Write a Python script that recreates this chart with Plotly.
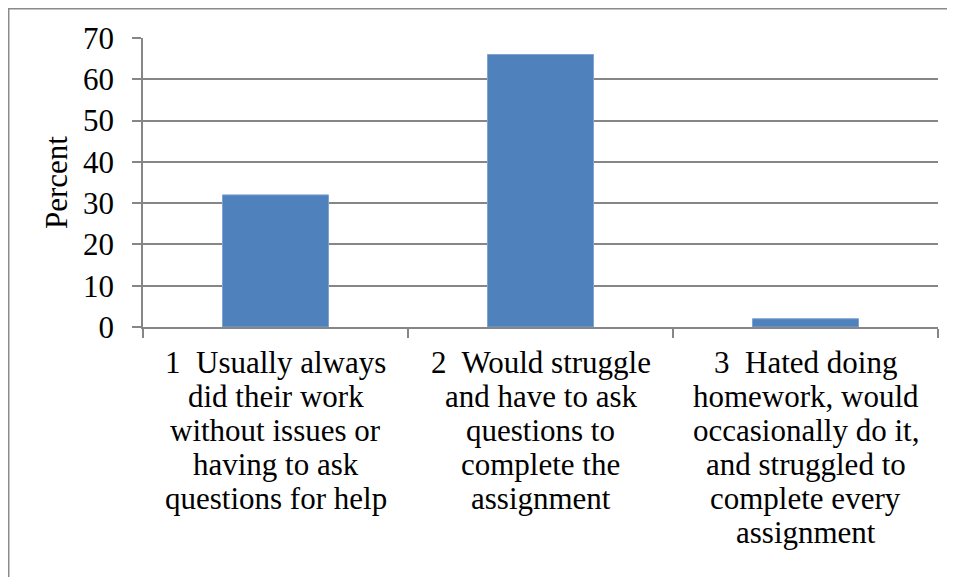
import plotly.graph_objects as go

categories = [
    "1  Usually always did their work without issues or having to ask questions for help",
    "2  Would struggle and have to ask questions to complete the assignment",
    "3  Hated doing homework, would occasionally do it, and struggled to complete every assignment",
]
label_lines = [
    ["1\u00a0 Usually always", "did their work", "without issues or", "having to ask", "questions for help"],
    ["2\u00a0 Would struggle", "and have to ask", "questions to", "complete the", "assignment"],
    ["3\u00a0 Hated doing", "homework, would", "occasionally do it,", "and struggled to", "complete every", "assignment"],
]
percent = [32, 66, 2]

FONT = "Liberation Serif"
GRID = "#868686"
FS = 31

fig = go.Figure()
fig.add_trace(go.Bar(
    x=categories, y=percent,
    marker=dict(color="#4F81BD", line=dict(color="#7FA3D1", width=1)),
))

# category labels, one annotation per line so the line spacing matches Word's
annotations = []
for cat, lines in zip(categories, label_lines):
    for j, txt in enumerate(lines):
        annotations.append(dict(
            x=cat, xref="x", y=0, yref="paper", yanchor="top",
            yshift=-16 - 34 * j, text=txt, showarrow=False,
            font=dict(family=FONT, size=FS, color="black"),
        ))

fig.update_layout(
    width=947, height=569,
    margin=dict(l=135, r=17, t=30, b=250),
    paper_bgcolor="white", plot_bgcolor="white",
    font=dict(family=FONT, size=FS, color="black"),
    bargap=0.6,
    showlegend=False,
    xaxis=dict(
        showline=True, linecolor=GRID, linewidth=1.5,
        ticks="outside", ticklen=9, tickcolor=GRID, tickwidth=1.5,
        tickson="boundaries", showgrid=False, showticklabels=False,
    ),
    yaxis=dict(
        range=[0, 70], dtick=10,
        showline=True, linecolor=GRID, linewidth=1.5,
        ticks="outside", ticklen=9, tickcolor=GRID, tickwidth=1.5,
        ticklabelstandoff=12,
        showgrid=True, gridcolor=GRID, gridwidth=1.5,
        zeroline=False,
        title=dict(text="Percent", font=dict(family=FONT, size=FS), standoff=6),
        tickfont=dict(family=FONT, size=FS),
    ),
    annotations=annotations,
    shapes=[dict(
        type="rect", xref="paper", yref="paper",
        x0=-0.1689, x1=1.1, y0=-1.0, y1=1.1012,
        line=dict(color="#8a8a8a", width=1.5), fillcolor="rgba(0,0,0,0)",
        layer="below",
    )],
)

fig.write_html("out.html")
